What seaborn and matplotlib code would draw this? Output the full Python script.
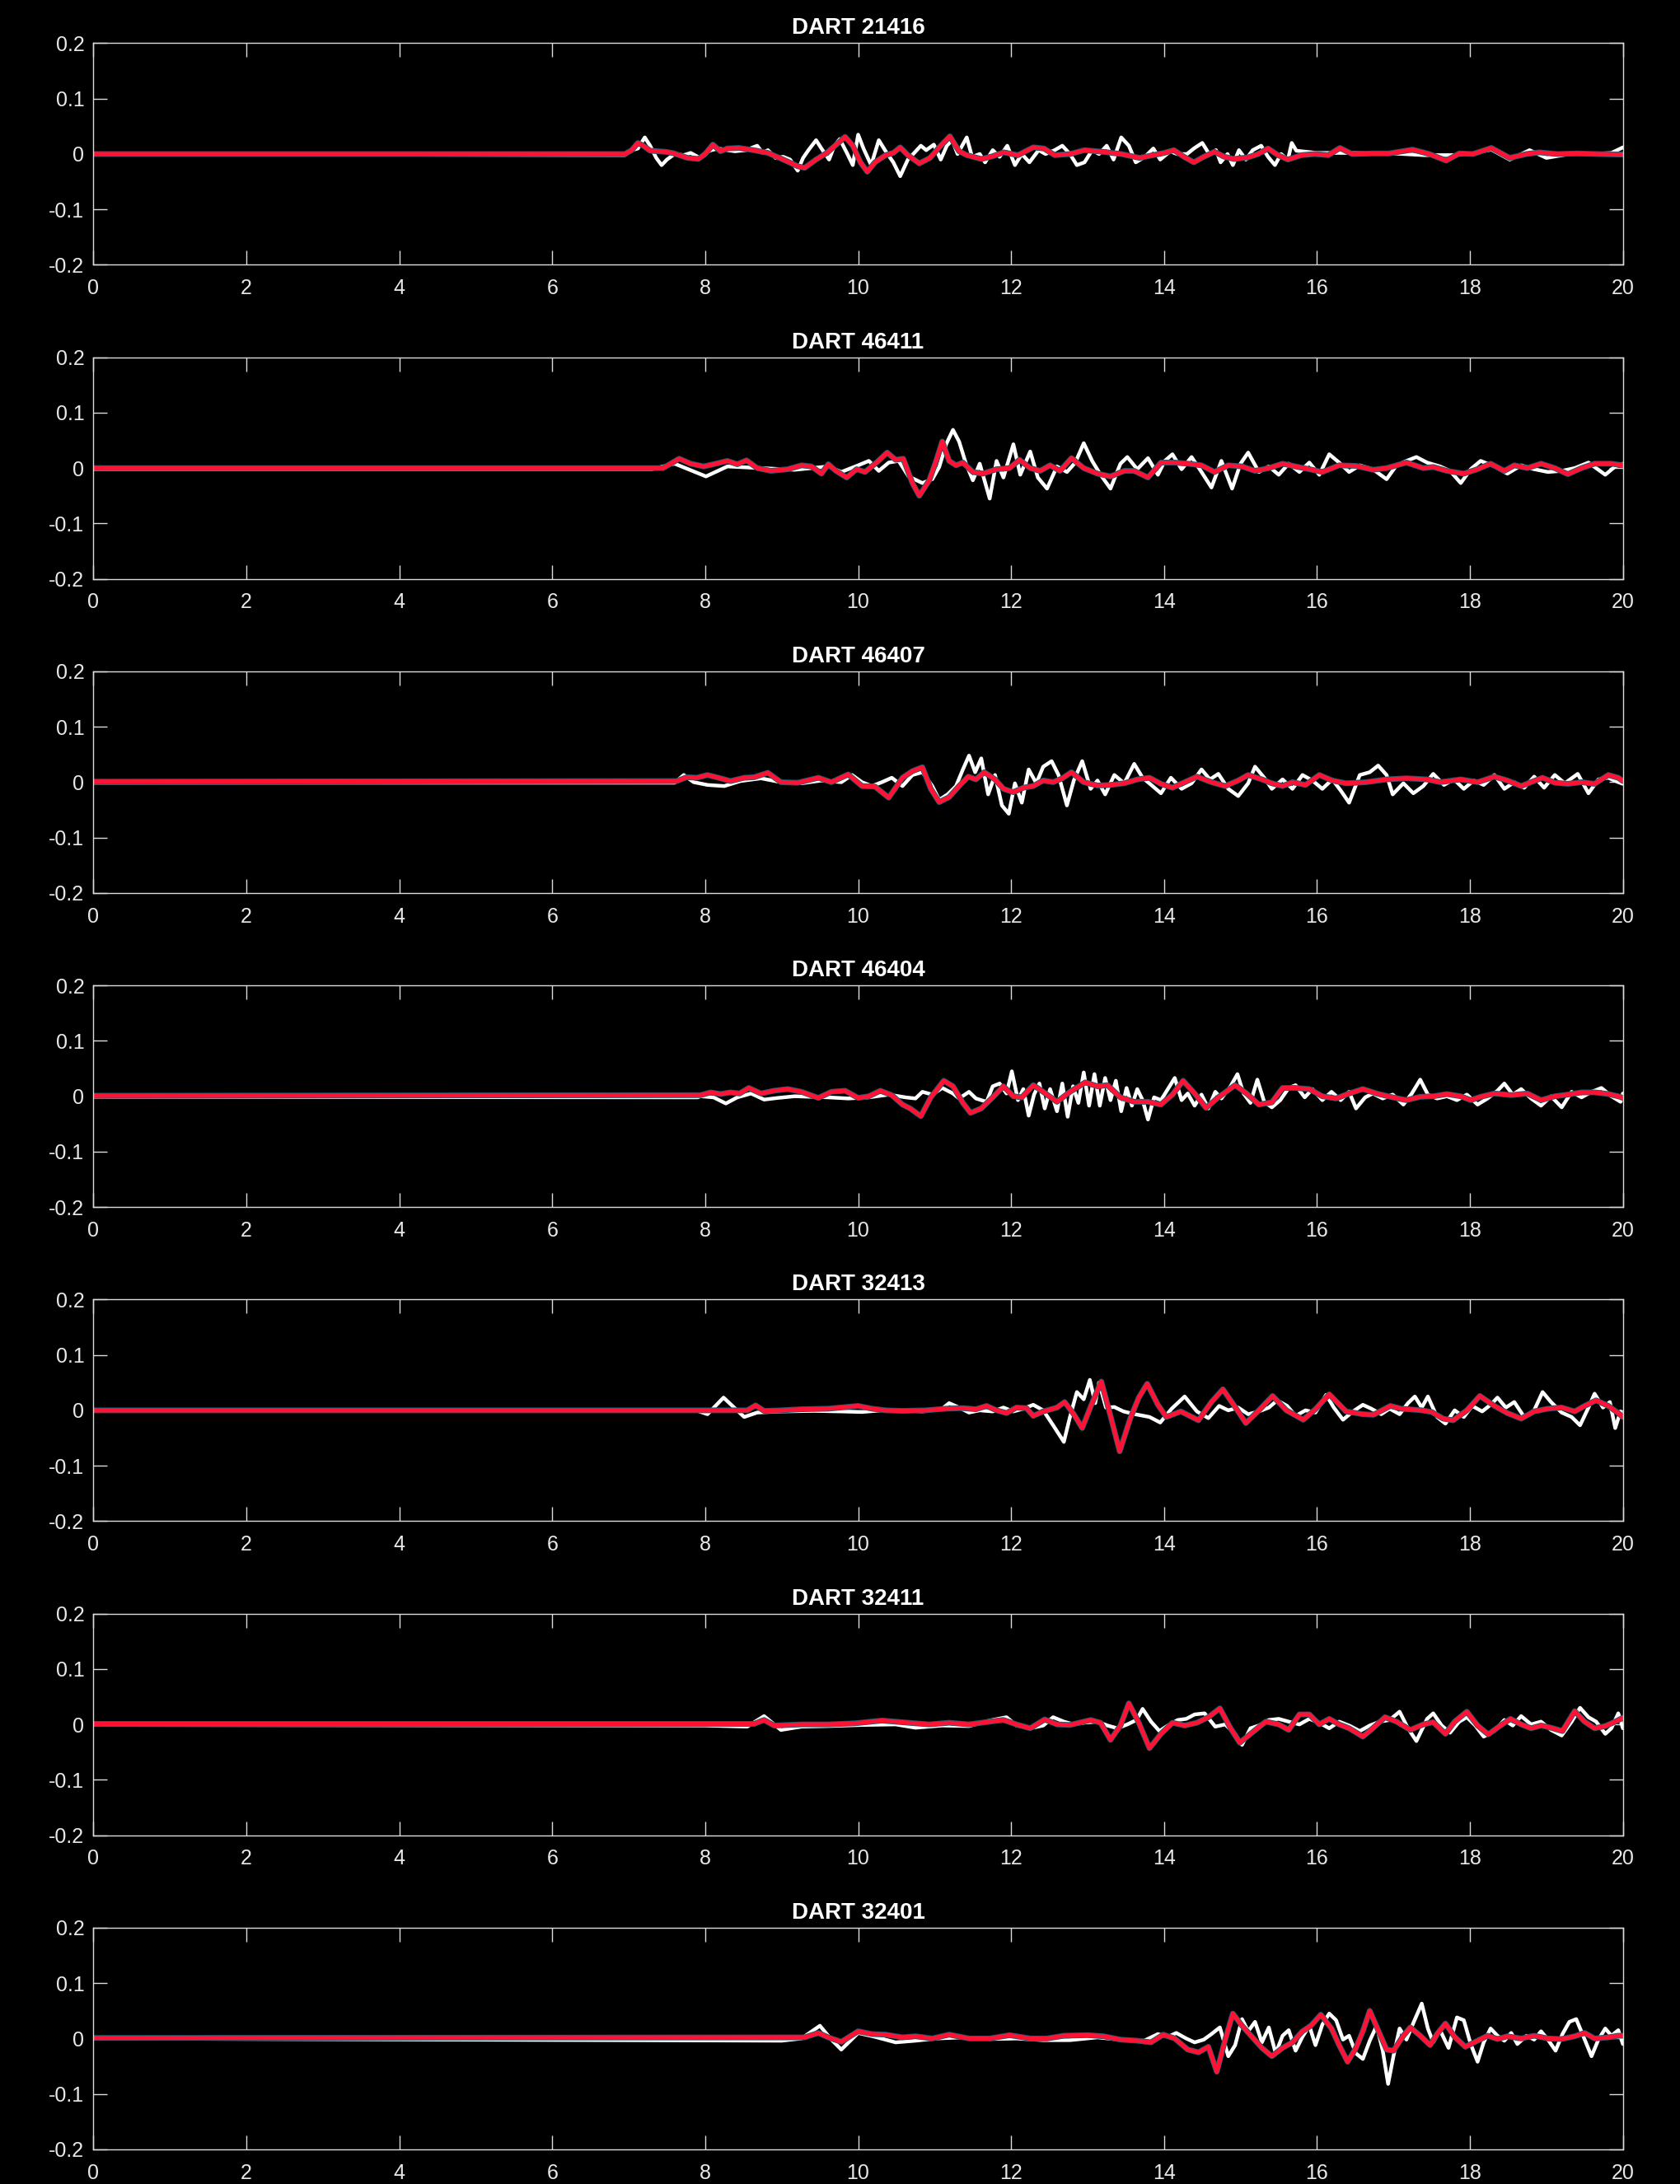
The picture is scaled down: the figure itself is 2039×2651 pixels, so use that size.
import numpy as np
import pandas as pd
import matplotlib
matplotlib.use("Agg")
import matplotlib.pyplot as plt
import matplotlib.patheffects as pe
import seaborn as sns

# Sea-surface records (hours after origin, amplitude in mm): observed DART vs model
stations = ["21416", "46411", "46407", "46404", "32413", "32411", "32401"]

obs_21416 = [(0, 0), (6.95, -2), (7.04, 7), (7.12, 10), (7.21, 30), (7.28, 15), (7.36, -7), (7.43, -20), (7.5, -10),
             (7.6, 0), (7.72, -2), (7.81, 2), (7.93, -7), (8.0, 2), (8.08, 7), (8.17, 10), (8.29, 7), (8.39, 5),
             (8.53, 7), (8.68, 15), (8.75, 2), (8.82, 7), (8.92, -7), (9.02, -5), (9.11, -10), (9.21, -30), (9.28, -7),
             (9.35, 7), (9.45, 25), (9.52, 10), (9.62, -10), (9.69, 15), (9.76, 27), (9.86, 0), (9.93, -20), (10.0, 35),
             (10.07, 10), (10.17, -20), (10.27, 25), (10.36, 5), (10.46, -15), (10.55, -40), (10.65, -10), (10.72, 0),
             (10.82, 15), (10.89, 7), (10.99, 17), (11.08, -10), (11.16, 15), (11.23, 25), (11.3, 0), (11.42, 30),
             (11.49, -5), (11.59, 0), (11.66, -15), (11.76, 7), (11.85, -5), (11.95, 15), (12.05, -20), (12.14, 0),
             (12.24, -15), (12.36, 7), (12.45, 0), (12.57, 7), (12.67, 15), (12.77, 0), (12.86, -20), (12.96, -15),
             (13.06, 7), (13.15, 0), (13.25, 15), (13.34, -10), (13.44, 30), (13.54, 15), (13.63, -15), (13.75, -5),
             (13.86, 10), (13.95, -10), (14.08, 5), (14.17, 0), (14.3, 0), (14.39, 10), (14.5, 20), (14.59, 0),
             (14.68, 7), (14.74, -15), (14.83, 0), (14.9, -20), (14.98, 7), (15.07, -10), (15.16, 7), (15.27, 15),
             (15.36, -5), (15.45, -20), (15.53, 0), (15.62, -10), (15.67, 20), (15.73, 6), (16.0, 2), (16.5, 2),
             (17.0, 1), (17.4, -2), (17.8, -2), (18.0, 0), (18.28, 8), (18.52, -10), (18.78, 7), (19.0, -7),
             (19.3, 0), (19.6, 0), (19.85, 2), (20.0, 12)]
mod_21416 = [(0, 0), (6.95, 0), (7.04, 7), (7.12, 20), (7.19, 15), (7.28, 6), (7.48, 4), (7.57, 2), (7.77, -7),
             (7.91, -9), (8.0, 0), (8.1, 17), (8.2, 5), (8.29, 10), (8.44, 11), (8.63, 7), (8.82, 2), (9.02, -10),
             (9.21, -22), (9.3, -25), (9.45, -10), (9.59, 2), (9.74, 20), (9.83, 31), (9.93, 15), (10.03, -15),
             (10.12, -32), (10.22, -15), (10.36, -2), (10.46, 2), (10.55, 12), (10.65, -2), (10.8, -17), (10.94, -7),
             (11.06, 12), (11.2, 32), (11.32, 5), (11.42, -2), (11.61, -9), (11.76, -4), (11.9, 3), (12.09, -2),
             (12.29, 12), (12.43, 10), (12.57, -2), (12.77, 0), (12.96, 7), (13.2, 4), (13.44, 0), (13.68, -7),
             (13.86, -2), (14.0, 2), (14.13, 7), (14.26, -5), (14.39, -15), (14.52, -5), (14.66, 4), (14.79, -5),
             (14.92, -9), (15.1, -6), (15.23, 0), (15.36, 10), (15.49, -2), (15.62, -10), (15.8, -2), (15.97, 0),
             (16.15, -2), (16.3, 11), (16.46, 0), (16.72, 1), (16.94, 1), (17.25, 8), (17.47, 0), (17.69, -12),
             (17.86, 1), (18.04, 0), (18.28, 11), (18.52, -7), (18.74, 0), (18.91, 3), (19.14, 0), (19.4, 1),
             (19.66, 0), (20.0, -1)]

obs_46411 = [(0, -2), (7.3, -2), (7.45, 3), (7.6, 8), (8.01, -15), (8.29, 3), (8.73, 0), (9.17, -3), (9.61, 3),
             (9.78, -7), (10.0, 5), (10.14, 13), (10.27, -5), (10.4, 10), (10.53, 13), (10.66, -15), (10.84, -27),
             (10.97, -20), (11.06, 2), (11.15, 43), (11.24, 69), (11.32, 48), (11.41, 8), (11.5, -22), (11.59, 8),
             (11.72, -55), (11.81, 13), (11.9, -17), (12.03, 43), (12.12, -12), (12.25, 30), (12.35, -17),
             (12.47, -37), (12.6, 3), (12.73, -7), (12.84, 10), (12.95, 45), (13.06, 13), (13.17, -12), (13.3, -37),
             (13.43, 8), (13.52, 20), (13.65, -2), (13.79, 18), (13.92, -12), (14.01, 13), (14.11, 25), (14.23, -2),
             (14.36, 20), (14.49, -7), (14.62, -35), (14.75, 13), (14.89, -37), (15.0, 8), (15.1, 28), (15.24, -7),
             (15.37, 3), (15.5, -12), (15.63, 8), (15.77, -7), (15.9, 10), (16.03, -12), (16.16, 25), (16.29, 10),
             (16.42, -7), (16.56, 5), (16.73, -2), (16.91, -20), (17.04, 5), (17.17, 13), (17.3, 20), (17.44, 10),
             (17.61, 3), (17.74, -5), (17.88, -27), (18.01, -2), (18.14, 13), (18.32, 3), (18.49, -10), (18.67, 5),
             (18.84, -2), (19.02, -7), (19.2, -5), (19.37, 0), (19.55, 10), (19.77, -12), (19.9, 3), (20.0, 8)]
mod_46411 = [(0, 0), (7.45, 0), (7.66, 17), (7.81, 8), (7.98, 3), (8.11, 7), (8.29, 13), (8.42, 7), (8.54, 14),
             (8.68, 0), (8.86, -5), (9.08, -2), (9.26, 5), (9.39, 3), (9.52, -10), (9.61, 7), (9.71, -5), (9.85, -17),
             (9.98, -2), (10.09, -7), (10.24, 10), (10.38, 28), (10.49, 15), (10.59, 17), (10.71, -27), (10.8, -50),
             (10.93, -22), (11.02, 13), (11.1, 48), (11.19, 13), (11.28, 5), (11.37, 10), (11.5, -7), (11.63, -10),
             (11.81, -2), (11.98, 0), (12.11, 15), (12.25, 0), (12.38, -5), (12.51, 5), (12.64, -5), (12.79, 18),
             (12.95, 0), (13.13, -10), (13.3, -15), (13.48, -5), (13.61, -5), (13.79, -17), (13.96, 10), (14.14, 10),
             (14.31, 8), (14.49, 5), (14.66, -7), (14.84, 5), (15.02, 3), (15.19, -5), (15.37, 0), (15.55, 8),
             (15.72, 3), (15.9, -2), (16.07, -7), (16.29, 5), (16.51, 4), (16.73, -3), (16.91, 0), (17.17, 10),
             (17.39, 0), (17.52, 2), (17.7, -5), (17.92, -10), (18.1, -2), (18.27, 8), (18.45, -5), (18.58, 5),
             (18.75, 0), (18.93, 8), (19.11, 0), (19.28, -11), (19.46, 0), (19.63, 8), (19.85, 8), (20.0, 5)]

obs_46407 = [(0, -1), (7.6, -1), (7.72, 13), (7.85, 0), (8.03, -5), (8.25, -7), (8.46, 2), (8.73, 7), (8.99, 0),
             (9.26, -2), (9.52, 3), (9.78, 0), (9.92, 13), (10.05, 0), (10.18, -7), (10.31, 0), (10.44, 8),
             (10.58, -7), (10.71, 13), (10.84, 18), (10.97, -7), (11.06, -32), (11.17, -22), (11.28, -7), (11.37, 23),
             (11.45, 48), (11.53, 18), (11.61, 43), (11.7, -22), (11.79, 13), (11.88, -42), (11.97, -57), (12.05, -2),
             (12.14, -37), (12.23, 23), (12.33, -2), (12.42, 28), (12.53, 38), (12.62, 13), (12.73, -42), (12.82, 3),
             (12.93, 38), (13.04, -12), (13.13, 3), (13.23, -22), (13.35, 13), (13.48, -2), (13.61, 33), (13.72, 8),
             (13.85, -7), (13.96, -20), (14.09, 8), (14.23, -12), (14.36, -2), (14.49, 23), (14.6, 5), (14.71, 15),
             (14.84, -12), (14.97, -25), (15.1, -2), (15.19, 28), (15.31, 8), (15.41, -12), (15.55, 5), (15.68, -12),
             (15.81, 13), (15.94, 3), (16.07, -12), (16.2, 5), (16.31, -15), (16.42, -37), (16.56, 13), (16.69, 18),
             (16.8, 30), (16.91, 13), (16.99, -22), (17.13, -2), (17.26, -20), (17.39, -7), (17.52, 15), (17.66, -5),
             (17.79, 5), (17.92, -12), (18.05, 3), (18.18, -5), (18.32, 13), (18.45, -12), (18.58, 0), (18.71, -10),
             (18.84, 10), (18.97, -10), (19.11, 13), (19.24, -2), (19.41, 15), (19.55, -20), (19.68, 5), (19.81, 8),
             (19.94, 0), (20.0, -3)]
mod_46407 = [(0, 1), (7.63, 2), (7.76, 9), (7.89, 8), (8.03, 13), (8.2, 7), (8.33, 2), (8.51, 8), (8.64, 9),
             (8.82, 17), (8.99, 0), (9.21, -1), (9.48, 8), (9.65, 0), (9.87, 14), (10.05, -7), (10.22, -8),
             (10.4, -28), (10.58, 8), (10.71, 20), (10.84, 27), (10.95, -12), (11.06, -36), (11.19, -27), (11.32, -7),
             (11.44, 10), (11.54, 5), (11.65, 18), (11.79, 5), (11.9, -12), (12.03, -18), (12.16, -10), (12.29, -7),
             (12.42, 3), (12.55, 0), (12.67, 7), (12.79, 18), (12.95, 0), (13.13, -6), (13.3, -5), (13.48, -2),
             (13.65, 5), (13.81, 8), (13.96, -3), (14.11, -10), (14.27, 0), (14.43, 10), (14.62, 0), (14.8, -7),
             (14.97, 3), (15.1, 13), (15.28, 5), (15.41, -2), (15.55, -7), (15.68, 0), (15.85, -5), (16.03, 13),
             (16.2, 3), (16.38, -2), (16.64, 0), (16.91, 5), (17.17, 7), (17.44, 5), (17.61, 0), (17.88, 5),
             (18.1, 0), (18.32, 10), (18.49, 3), (18.67, -7), (18.8, 0), (18.95, 8), (19.11, -1), (19.28, -3),
             (19.46, 0), (19.63, -3), (19.81, 13), (19.94, 8), (20.0, 2)]

obs_46404 = [(0, -1), (7.9, -2), (7.94, 0), (8.11, -2), (8.27, -13), (8.42, -2), (8.6, 5), (8.77, -6), (8.95, -3),
             (9.17, 0), (9.39, -1), (9.61, -2), (9.87, -4), (10.14, -2), (10.4, 3), (10.62, -2), (10.75, -4),
             (10.84, 8), (10.97, 3), (11.1, 15), (11.24, 5), (11.32, -4), (11.45, 8), (11.54, -4), (11.68, -10),
             (11.76, 18), (11.85, 23), (11.94, 5), (12.01, 45), (12.09, -7), (12.16, 13), (12.23, -35), (12.3, 3),
             (12.37, 23), (12.44, -22), (12.51, 13), (12.6, -27), (12.67, 23), (12.74, -37), (12.81, 18),
             (12.88, -12), (12.95, 43), (13.02, -17), (13.09, 40), (13.16, -17), (13.23, 33), (13.3, -7),
             (13.37, 28), (13.44, -27), (13.51, 15), (13.58, -17), (13.65, 13), (13.72, -7), (13.79, -42),
             (13.87, -2), (13.96, -7), (14.05, 13), (14.14, 33), (14.23, -7), (14.31, 5), (14.4, -17), (14.49, 3),
             (14.58, -22), (14.67, 8), (14.75, -4), (14.87, 18), (14.96, 40), (15.04, 5), (15.13, -12), (15.22, 30),
             (15.31, -10), (15.41, -20), (15.52, -7), (15.63, 15), (15.72, 20), (15.84, -2), (15.94, 13),
             (16.07, -7), (16.19, 8), (16.31, -7), (16.42, 8), (16.51, -22), (16.63, -2), (16.73, 5), (16.86, -4),
             (16.99, 3), (17.13, -15), (17.24, 5), (17.35, 30), (17.45, 3), (17.57, -4), (17.7, 0), (17.83, -7),
             (17.96, 3), (18.1, -15), (18.23, -4), (18.36, 10), (18.45, 23), (18.56, 3), (18.67, 13), (18.8, -4),
             (18.93, -17), (19.06, 0), (19.2, -20), (19.33, 8), (19.46, -2), (19.59, 8), (19.72, 15), (19.85, 0),
             (19.97, -10), (20.0, 5)]
mod_46404 = [(0, 1), (7.94, 2), (8.07, 7), (8.2, 4), (8.33, 7), (8.45, 5), (8.57, 15), (8.73, 5), (8.9, 10),
             (9.08, 13), (9.26, 8), (9.48, -3), (9.65, 8), (9.83, 10), (10.0, -3), (10.14, 0), (10.29, 10),
             (10.44, 2), (10.58, -15), (10.68, -22), (10.82, -36), (10.95, -2), (11.12, 28), (11.24, 18),
             (11.37, -12), (11.47, -30), (11.61, -22), (11.76, -2), (11.9, 18), (12.03, 0), (12.14, -2), (12.29, 20),
             (12.42, 8), (12.6, -10), (12.77, 8), (12.97, 25), (13.13, 18), (13.26, 20), (13.43, -2), (13.61, -10),
             (13.79, -10), (13.96, -15), (14.11, 3), (14.25, 28), (14.4, 5), (14.55, -21), (14.71, -2), (14.93, 20),
             (15.08, 5), (15.24, -15), (15.41, -11), (15.55, 15), (15.72, 15), (15.9, 13), (16.07, 0), (16.25, -4),
             (16.42, 5), (16.6, 13), (16.78, 5), (16.99, -2), (17.17, -7), (17.35, -1), (17.52, 0), (17.7, 4),
             (17.88, 0), (18.01, -7), (18.14, -1), (18.32, 5), (18.54, 2), (18.75, 5), (18.93, -7), (19.11, 0),
             (19.28, 3), (19.46, 7), (19.63, 7), (19.81, 4), (19.94, 0), (20.0, -3)]

obs_32413 = [(0, -1), (7.9, -1), (8.03, -7), (8.24, 23), (8.51, -12), (8.68, -4), (8.99, -2), (9.43, -1),
             (9.78, -2), (10.05, -3), (10.31, 0), (10.58, 0), (10.84, -2), (11.1, 3), (11.19, 13), (11.32, 5),
             (11.45, -4), (11.59, 0), (11.76, -2), (11.9, 5), (12.03, -2), (12.16, 3), (12.29, 10), (12.42, 0),
             (12.55, -27), (12.69, -57), (12.77, -12), (12.86, 33), (12.95, 20), (13.03, 55), (13.1, 13),
             (13.15, 50), (13.24, 5), (13.35, 6), (13.47, -2), (13.62, -7), (13.81, -12), (13.95, -22), (14.1, 3),
             (14.27, 25), (14.43, -2), (14.58, -14), (14.72, 8), (14.84, 0), (14.97, 5), (15.1, -7), (15.24, -2),
             (15.37, 5), (15.48, 18), (15.61, 8), (15.72, -10), (15.85, 0), (15.98, -4), (16.12, 28), (16.22, 5),
             (16.34, -17), (16.47, -2), (16.6, 10), (16.71, 3), (16.84, -7), (16.95, 3), (17.08, -7), (17.19, 13),
             (17.28, 25), (17.37, 5), (17.45, 25), (17.57, -12), (17.68, -24), (17.8, 0), (17.92, -12), (18.03, 8),
             (18.16, -2), (18.27, 10), (18.36, 23), (18.47, 5), (18.58, 15), (18.71, -12), (18.84, 0), (18.95, 33),
             (19.06, 15), (19.2, -4), (19.33, -12), (19.44, -27), (19.55, 5), (19.63, 30), (19.74, 5), (19.83, 15),
             (19.9, -32), (19.97, -2), (20.0, -12)]
mod_32413 = [(0, 0), (8.55, 0), (8.66, 9), (8.77, -1), (8.99, 0), (9.26, 2), (9.61, 3), (10.0, 8), (10.18, 3),
             (10.36, 0), (10.58, -1), (10.88, 0), (11.15, 3), (11.37, 4), (11.54, 2), (11.68, 8), (11.81, 0),
             (11.94, -5), (12.07, 5), (12.2, 4), (12.29, -10), (12.42, -2), (12.6, 5), (12.7, 15), (12.82, -7),
             (12.93, -32), (13.05, 10), (13.18, 52), (13.3, -10), (13.42, -74), (13.56, -14), (13.67, 23),
             (13.78, 48), (13.92, 10), (14.03, -12), (14.22, -2), (14.45, -18), (14.62, 15), (14.77, 38), (14.92, 8),
             (15.07, -23), (15.24, 0), (15.42, 26), (15.6, 0), (15.82, -17), (15.98, 2), (16.16, 29), (16.38, -2),
             (16.6, -7), (16.74, -8), (16.96, 8), (17.1, 3), (17.37, 0), (17.5, -3), (17.65, -15), (17.78, -18),
             (17.96, 0), (18.13, 26), (18.32, 8), (18.49, -5), (18.67, -15), (18.84, -2), (19.02, 3), (19.2, 5),
             (19.37, -2), (19.5, 8), (19.65, 18), (19.81, 8), (19.94, -5), (20.0, -12)]

obs_32411 = [(0, -1), (8.0, -2), (8.55, -4), (8.77, 15), (8.99, -10), (9.26, -4), (9.61, -3), (10.05, -1),
             (10.49, 0), (10.75, -6), (11.1, -2), (11.45, -3), (11.72, 7), (11.94, 13), (12.07, -2), (12.25, -7),
             (12.42, -2), (12.55, 13), (12.69, 5), (12.82, 0), (12.95, 3), (13.13, 5), (13.26, -2), (13.39, -7),
             (13.52, 0), (13.64, 8), (13.72, 28), (13.83, 5), (13.94, -12), (14.05, -2), (14.18, 8), (14.29, 10),
             (14.4, 18), (14.53, 20), (14.67, -4), (14.8, 0), (14.93, -17), (15.02, -37), (15.13, -7), (15.24, -2),
             (15.37, 8), (15.5, 10), (15.63, 5), (15.77, 0), (15.9, 10), (16.03, 3), (16.16, -7), (16.29, 5),
             (16.42, -2), (16.56, -12), (16.69, -2), (16.82, 5), (16.95, 8), (17.08, 23), (17.19, -7), (17.3, -30),
             (17.44, 10), (17.52, 20), (17.63, -2), (17.74, -15), (17.86, 5), (17.96, 13), (18.07, -2), (18.18, -22),
             (18.32, -12), (18.45, 8), (18.56, -2), (18.67, 15), (18.8, 0), (18.93, 5), (19.06, -10), (19.2, -20),
             (19.33, 5), (19.44, 30), (19.55, 13), (19.65, 5), (19.77, -17), (19.85, -7), (19.94, 20), (20.0, -7)]
mod_32411 = [(0, 1), (8.64, 1), (8.77, 8), (8.9, -2), (9.26, 0), (9.61, 0), (9.96, 2), (10.31, 7), (10.66, 3),
             (10.93, 0), (11.19, 3), (11.45, 0), (11.72, 5), (11.9, 8), (12.07, 0), (12.25, -7), (12.44, 9),
             (12.6, 0), (12.77, -1), (13.04, 8), (13.17, 3), (13.3, -28), (13.43, -2), (13.54, 38), (13.67, 3),
             (13.81, -43), (13.96, -17), (14.11, 3), (14.27, -2), (14.43, 3), (14.58, 13), (14.73, 29), (14.87, -7),
             (14.99, -33), (15.15, -15), (15.33, 5), (15.5, 0), (15.63, -10), (15.77, 18), (15.9, 18), (16.03, 0),
             (16.16, 10), (16.29, 0), (16.42, -7), (16.6, -22), (16.73, -7), (16.89, 13), (17.04, 5), (17.22, -10),
             (17.39, 0), (17.52, 4), (17.68, -17), (17.8, 5), (17.96, 23), (18.1, -2), (18.24, -18), (18.4, -2),
             (18.53, 10), (18.67, 0), (18.8, -7), (18.93, -2), (19.06, -6), (19.21, -12), (19.37, 24), (19.5, 5),
             (19.63, -7), (19.77, -3), (19.9, 5), (20.0, 12)]

obs_32401 = [(0, 0), (9.0, -4), (9.26, 0), (9.5, 23), (9.65, -2), (9.78, -20), (10.0, 10), (10.22, 3), (10.49, -7),
             (10.75, -4), (11.02, 0), (11.37, 2), (11.72, -1), (12.07, 0), (12.42, -3), (12.77, -3), (13.13, 2),
             (13.48, -3), (13.74, -4), (13.92, 8), (14.05, 3), (14.16, 10), (14.29, 0), (14.4, -7), (14.52, -2),
             (14.62, 8), (14.73, 20), (14.84, -32), (14.93, -12), (15.02, 35), (15.1, 13), (15.19, 30), (15.28, -7),
             (15.37, 20), (15.46, -27), (15.55, 5), (15.63, 15), (15.72, -22), (15.81, 3), (15.9, 23), (15.98, -12),
             (16.07, 25), (16.16, 45), (16.25, 33), (16.34, -2), (16.42, 5), (16.51, -27), (16.6, -37), (16.69, -4),
             (16.78, 23), (16.86, -22), (16.93, -82), (17.0, -32), (17.08, 18), (17.17, -2), (17.26, 28),
             (17.37, 63), (17.45, 18), (17.52, -7), (17.61, 15), (17.72, -17), (17.83, 38), (17.92, 33),
             (18.01, -10), (18.1, -42), (18.18, -7), (18.27, 18), (18.36, 5), (18.45, -4), (18.54, 10), (18.62, -10),
             (18.74, 5), (18.84, -2), (18.93, 13), (19.02, -2), (19.12, -22), (19.21, 8), (19.3, 30), (19.39, 35),
             (19.48, 5), (19.59, -32), (19.68, -2), (19.77, 18), (19.85, 5), (19.94, 15), (20.0, -10)]
mod_32401 = [(0, 1), (9.3, 2), (9.48, 10), (9.61, 2), (9.78, -6), (10.0, 13), (10.18, 8), (10.36, 7), (10.58, 2),
             (10.75, 4), (10.97, 0), (11.19, 7), (11.45, 0), (11.72, 0), (11.98, 6), (12.25, 0), (12.47, 0),
             (12.69, 5), (13.0, 6), (13.21, 4), (13.43, -2), (13.65, -4), (13.83, -7), (13.99, 7), (14.14, 0),
             (14.31, -20), (14.45, -25), (14.58, -15), (14.69, -60), (14.8, -2), (14.9, 45), (15.02, 23), (15.15, 3),
             (15.28, -17), (15.41, -32), (15.55, -17), (15.68, -7), (15.81, 13), (15.92, 23), (16.05, 43),
             (16.19, 18), (16.29, -12), (16.4, -42), (16.51, -17), (16.6, 13), (16.69, 50), (16.8, 15), (16.91, -20),
             (17.0, -22), (17.13, 5), (17.22, 20), (17.35, 5), (17.48, -12), (17.57, 8), (17.68, 27), (17.8, 3),
             (17.94, -15), (18.1, -4), (18.23, 5), (18.36, -1), (18.49, 4), (18.67, 0), (18.84, 5), (19.02, 0),
             (19.2, -1), (19.37, 4), (19.5, 10), (19.63, 0), (19.81, 2), (19.94, 5), (20.0, 5)]

x_ticks = [0, 2, 4, 6, 8, 10, 12, 14, 16, 18, 20]
y_ticks = [-0.2, -0.1, 0.0, 0.1, 0.2]
y_tick_labels = ["-0.2", "-0.1", "0", "0.1", "0.2"]

panels = [
    ("21416", obs_21416, mod_21416),
    ("46411", obs_46411, mod_46411),
    ("46407", obs_46407, mod_46407),
    ("46404", obs_46404, mod_46404),
    ("32413", obs_32413, mod_32413),
    ("32411", obs_32411, mod_32411),
    ("32401", obs_32401, mod_32401),
]

sns.set_theme(style="ticks")
plt.rcParams["font.family"] = ["Liberation Sans", "DejaVu Sans"]
plt.rcParams["axes.unicode_minus"] = False

FG = "#dcdcdc"
fig, axes = plt.subplots(len(panels), 1, figsize=(20.39, 26.51), dpi=100)
fig.patch.set_facecolor("black")
fig.subplots_adjust(left=0.0556, right=0.966, top=0.9802, bottom=0.0159, hspace=0.4175)


def to_frame(pairs):
    hours, mm = zip(*pairs)
    return pd.DataFrame({"hours": hours, "amp": np.asarray(mm, dtype=float) / 1000.0})


for ax, (name, obs, mod) in zip(axes, panels):
    ax.set_facecolor("black")
    sns.lineplot(data=to_frame(obs), x="hours", y="amp", ax=ax, color="white",
                 linewidth=3.2, estimator=None, sort=False, legend=False)
    sns.lineplot(data=to_frame(mod), x="hours", y="amp", ax=ax, color="#ff1234",
                 linewidth=3.8, estimator=None, sort=False, legend=False)
    ax.lines[-1].set_path_effects([pe.Stroke(linewidth=5.0, foreground="#1c5a6e"), pe.Normal()])

    ax.set_xlim(0, 20)
    ax.set_ylim(-0.2, 0.2)
    ax.set_xticks(x_ticks)
    ax.set_xticklabels([str(t) for t in x_ticks])
    ax.set_yticks(y_ticks)
    ax.set_yticklabels(y_tick_labels)
    ax.set_xlabel("")
    ax.set_ylabel("")
    ax.tick_params(axis="both", direction="in", top=True, right=True, length=12.5, width=1.0,
                   color=FG, labelcolor="#e8e8e8", labelsize=18)
    ax.tick_params(axis="x", pad=12)
    ax.tick_params(axis="y", pad=8)
    for sp in ax.spines.values():
        sp.set_color(FG)
        sp.set_linewidth(1.0)
    ax.set_title(f"DART {name}", color="white", fontsize=20, fontweight="bold", pad=8)

fig.savefig("out.png", dpi=100, facecolor="black")
